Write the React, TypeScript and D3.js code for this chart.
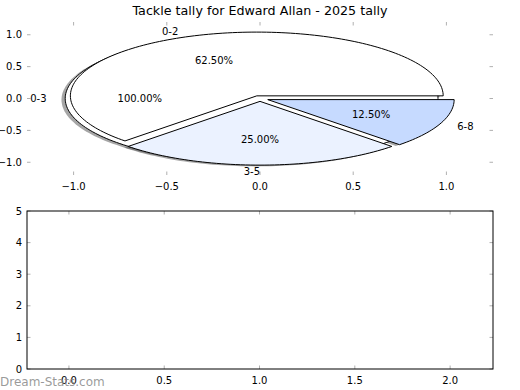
import React from "react";
import * as d3 from "d3";

const title = "Tackle tally for Edward Allan - 2025 tally";
const sliceLabels = ["0-3", "0-2", "3-5", "6-8"];
const slicePcts = [100, 62.5, 25, 12.5];
const sliceColors = ["#ffffff", "#ffffff", "#ebf2ff", "#c6daff"];
const sliceExplode = [0.045, 0.045, 0.045, 0.045];
const pieTicks = [-1, -0.5, 0, 0.5, 1];
const barXTicks = [0, 0.5, 1, 1.5, 2];
const barYTicks = [0, 1, 2, 3, 4, 5];

const W = 520;
const H = 390;
const font = "DejaVu Sans";
const tickGray = "#b0b0b0";

type Pt = [number, number];

const App = () => {
  // top axes (pie), not equal aspect so it is an ellipse
  const px = d3.scaleLinear().domain([-1.25, 1.25]).range([27, 493]);
  const py = d3.scaleLinear().domain([-1.2, 1.2]).range([175, 22]);
  // bottom axes (empty)
  const bx = d3.scaleLinear().domain([-0.22, 2.225]).range([27, 493]);
  const by = d3.scaleLinear().domain([0, 5]).range([369, 211]);

  const fmt1 = d3.format(".1f");
  const fmt2 = d3.format(".2f");
  const toRad = Math.PI / 180;

  const line = d3
    .line<Pt>()
    .x((d) => px(d[0]))
    .y((d) => py(d[1]));

  let cum = 0;
  const slices = sliceLabels.map((label, i) => {
    const t1 = cum;
    cum += (slicePcts[i] / 100) * 360;
    const t2 = cum;
    const mid = ((t1 + t2) / 2) * toRad;
    const cx = sliceExplode[i] * Math.cos(mid);
    const cy = sliceExplode[i] * Math.sin(mid);
    const full = Math.abs(t2 - t1 - 360) < 1e-9;
    const n = Math.max(2, Math.ceil(Math.abs(t2 - t1) / 1.5) + 1);
    const pts: Pt[] = [];
    if (!full) pts.push([cx, cy]);
    for (let k = 0; k < n; k++) {
      const a = (t1 + ((t2 - t1) * k) / (n - 1)) * toRad;
      pts.push([cx + Math.cos(a), cy + Math.sin(a)]);
    }
    const shadow: Pt[] = pts.map((p) => [p[0] - 0.02, p[1] - 0.02]);
    const lx = cx + 1.1 * Math.cos(mid);
    const ly = cy + 1.1 * Math.sin(mid);
    return {
      label,
      pct: slicePcts[i],
      color: sliceColors[i],
      path: line(pts) + "Z",
      shadowPath: line(shadow) + "Z",
      lx,
      ly,
      anchor: lx < 1e-9 ? "end" : "start",
      tx: cx + 0.6 * Math.cos(mid),
      ty: cy + 0.6 * Math.sin(mid),
    };
  });

  const tl = 3.5;

  return (
    <svg
      width={W}
      height={H}
      style={{ position: "absolute", left: 0, top: 0, background: "#fff" }}
      fontFamily={font}
    >
      <rect width={W} height={H} fill="#fff" />
      <text x={260} y={14.5} fontSize={12.7} textAnchor="middle">
        {title}
      </text>

      {/* pie axes ticks */}
      {pieTicks.map((t, i) => (
        <g key={"px" + i}>
          <line x1={px(t)} x2={px(t)} y1={22} y2={22 + tl} stroke={tickGray} />
          <line x1={px(t)} x2={px(t)} y1={175} y2={175 - tl} stroke={tickGray} />
          <text x={px(t)} y={190} fontSize={10} textAnchor="middle">
            {fmt1(t)}
          </text>
        </g>
      ))}
      {pieTicks.map((t, i) => (
        <g key={"py" + i}>
          <line x1={27} x2={27 + tl} y1={py(t)} y2={py(t)} stroke={tickGray} />
          <line x1={493} x2={493 - tl} y1={py(t)} y2={py(t)} stroke={tickGray} />
          <text x={22} y={py(t)} fontSize={10} textAnchor="end" dominantBaseline="central">
            {fmt1(t)}
          </text>
        </g>
      ))}

      {/* shadows under all wedges */}
      {slices.map((s, i) => (
        <path key={"sh" + i} d={s.shadowPath} fill="#4d4d4d" fillOpacity={0.5} stroke="none" />
      ))}
      {slices.map((s, i) => (
        <path key={"w" + i} d={s.path} fill={s.color} stroke="#000" strokeWidth={1} strokeLinejoin="miter" />
      ))}
      {slices.map((s, i) => (
        <g key={"t" + i} fontSize={10}>
          <text x={px(s.lx)} y={py(s.ly)} textAnchor={s.anchor} dominantBaseline="central">
            {s.label}
          </text>
          <text x={px(s.tx)} y={py(s.ty)} textAnchor="middle" dominantBaseline="central">
            {fmt2(s.pct) + "%"}
          </text>
        </g>
      ))}

      {/* bottom empty axes */}
      {barXTicks.map((t, i) => (
        <g key={"bx" + i}>
          <line x1={bx(t)} x2={bx(t)} y1={211} y2={211 + tl} stroke={tickGray} />
          <line x1={bx(t)} x2={bx(t)} y1={369} y2={369 - tl} stroke={tickGray} />
          <text x={bx(t)} y={384} fontSize={10} textAnchor="middle">
            {fmt1(t)}
          </text>
        </g>
      ))}
      {barYTicks.map((t, i) => (
        <g key={"by" + i}>
          <line x1={27} x2={27 + tl} y1={by(t)} y2={by(t)} stroke={tickGray} />
          <line x1={493} x2={493 - tl} y1={by(t)} y2={by(t)} stroke={tickGray} />
          <text x={22} y={by(t)} fontSize={10} textAnchor="end" dominantBaseline="central">
            {t}
          </text>
        </g>
      ))}
      <rect x={27} y={211} width={466} height={158} fill="none" stroke="#000" strokeWidth={1} />

      <text x={0} y={385.5} fontSize={12} fill="#888" fillOpacity={0.85}>
        Dream-Stats.com
      </text>
    </svg>
  );
};

export default App;
